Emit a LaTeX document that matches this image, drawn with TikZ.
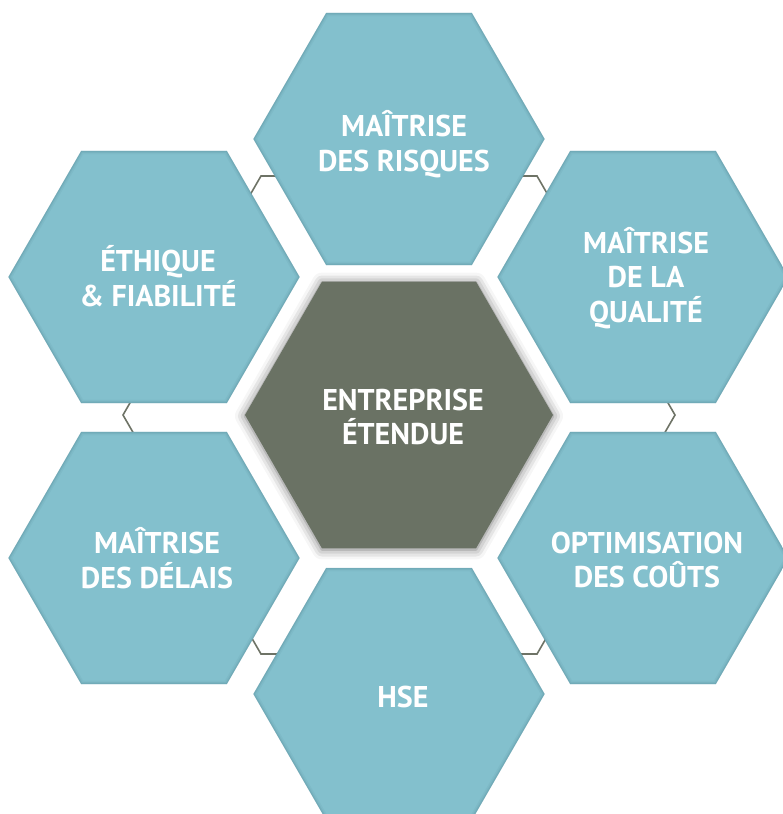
\documentclass[tikz,border=0pt]{standalone}
\usepackage{fontspec}
\setmainfont{PT Sans}
\usetikzlibrary{shapes.geometric,shadows.blur,calc}
\definecolor{hexteal}{HTML}{83C0CD}
\definecolor{hexedge}{HTML}{5A92A0}
\definecolor{hexcore}{HTML}{6A7264}
\definecolor{ringgray}{HTML}{6E7366}
\tikzset{
  hexbase/.style={regular polygon, regular polygon sides=6, inner sep=0pt},
  outerhex/.style={hexbase, minimum size=291pt, fill=hexteal},
  corehex/.style={hexbase, minimum size=308pt, fill=hexcore,
    blur shadow={shadow xshift=0pt, shadow yshift=-1pt, shadow blur radius=10pt, shadow opacity=55}},
  hextext/.style={text=white, align=center, inner sep=0pt, font=\bfseries\fontsize{30}{34.5}\selectfont},
  ringline/.style={draw=ringgray, line width=1.6pt, line join=miter},
  edgeshade/.style={draw=hexedge, line join=miter}
}
\newcommand{\hexof}[1]{(#1.corner 1) -- (#1.corner 2) -- (#1.corner 3) -- (#1.corner 4) -- (#1.corner 5) -- (#1.corner 6) -- cycle}
\begin{document}
\begin{tikzpicture}[x=1pt,y=-1pt]
\useasboundingbox (0,0) rectangle (782,814);
\coordinate (mid) at (399,415);
% background ring
\draw[ringline] ($(mid)+(0:276)$) -- ($(mid)+(60:276)$) -- ($(mid)+(120:276)$) -- ($(mid)+(180:276)$) -- ($(mid)+(240:276)$) -- ($(mid)+(300:276)$) -- cycle;
% outer hexagons
\node[outerhex] (risk)  at (399,139) {};
\node[outerhex] (ethic) at (154,277) {};
\node[outerhex] (qual)  at (643,277) {};
\node[outerhex] (delai) at (154,558) {};
\node[outerhex] (cout)  at (643,558) {};
\node[outerhex] (hse)   at (399,694) {};
\foreach \n in {risk,ethic,qual,delai,cout,hse}{
  \begin{scope}
    \clip \hexof{\n};
    \draw[edgeshade, line width=7pt, opacity=.12] \hexof{\n};
    \draw[edgeshade, line width=4pt, opacity=.18] \hexof{\n};
    \draw[edgeshade, line width=1.8pt, opacity=.3] \hexof{\n};
  \end{scope}
}
% core
\node[corehex] (core) at (mid) {};
% texts
\node[hextext] (risk-t)  at (404,144) {MAÎTRISE\\DES RISQUES};
\node[hextext] (ethic-t) at (158,276) {ÉTHIQUE\\\& FIABILITÉ};
\node[hextext] (qual-t)  at (646,278) {MAÎTRISE\\DE LA\\QUALITÉ};
\node[hextext] (delai-t) at (157,558) {MAÎTRISE\\DES DÉLAIS};
\node[hextext] (cout-t)  at (647,560) {OPTIMISATION\\DES COÛTS};
\node[hextext] (hse-t)   at (403,697) {HSE};
\node[hextext] (core-t)  at (403,417) {ENTREPRISE\\ÉTENDUE};
\end{tikzpicture}
\end{document}
